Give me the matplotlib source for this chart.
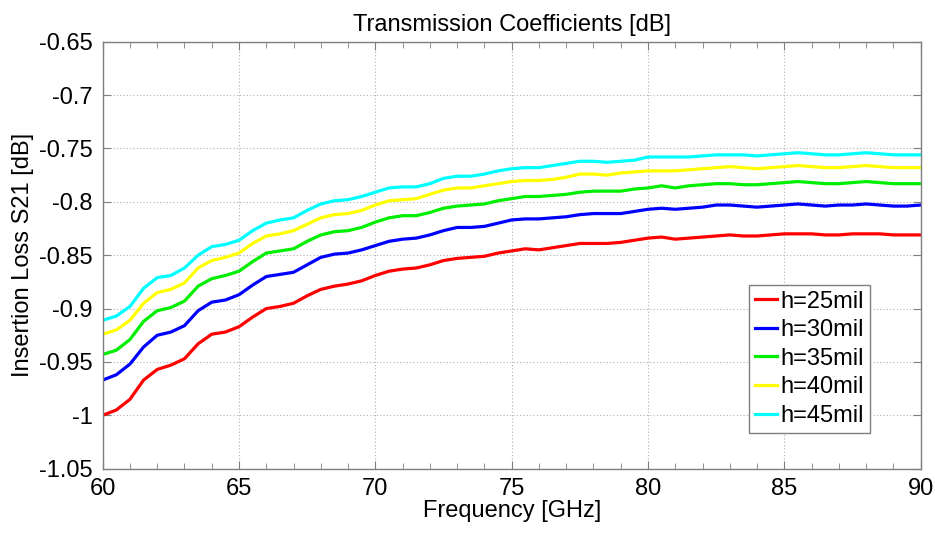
import numpy as np
import matplotlib.pyplot as plt
from matplotlib.ticker import MultipleLocator

plt.rcParams["font.family"] = ["Liberation Sans", "DejaVu Sans"]

freq = [60.0, 60.5, 61.0, 61.5, 62.0, 62.5, 63.0, 63.5, 64.0, 64.5,
        65.0, 65.5, 66.0, 66.5, 67.0, 67.5, 68.0, 68.5, 69.0, 69.5,
        70.0, 70.5, 71.0, 71.5, 72.0, 72.5, 73.0, 73.5, 74.0, 74.5,
        75.0, 75.5, 76.0, 76.5, 77.0, 77.5, 78.0, 78.5, 79.0, 79.5,
        80.0, 80.5, 81.0, 81.5, 82.0, 82.5, 83.0, 83.5, 84.0, 84.5,
        85.0, 85.5, 86.0, 86.5, 87.0, 87.5, 88.0, 88.5, 89.0, 89.5, 90.0]

s21_25 = [-1.000, -0.995, -0.985, -0.967, -0.957, -0.953, -0.947, -0.933, -0.924, -0.922,
          -0.917, -0.908, -0.900, -0.898, -0.895, -0.888, -0.882, -0.879, -0.877, -0.874,
          -0.869, -0.865, -0.863, -0.862, -0.859, -0.855, -0.853, -0.852, -0.851, -0.848,
          -0.846, -0.844, -0.845, -0.843, -0.841, -0.839, -0.839, -0.839, -0.838, -0.836,
          -0.834, -0.833, -0.835, -0.834, -0.833, -0.832, -0.831, -0.832, -0.832, -0.831,
          -0.830, -0.830, -0.830, -0.831, -0.831, -0.830, -0.830, -0.830, -0.831, -0.831, -0.831]

s21_30 = [-0.967, -0.962, -0.952, -0.936, -0.925, -0.922, -0.916, -0.902, -0.894, -0.892,
          -0.887, -0.878, -0.870, -0.868, -0.866, -0.859, -0.852, -0.849, -0.848, -0.845,
          -0.841, -0.837, -0.835, -0.834, -0.831, -0.827, -0.824, -0.824, -0.823, -0.820,
          -0.817, -0.816, -0.816, -0.815, -0.814, -0.812, -0.811, -0.811, -0.811, -0.809,
          -0.807, -0.806, -0.807, -0.806, -0.805, -0.803, -0.803, -0.804, -0.805, -0.804,
          -0.803, -0.802, -0.803, -0.804, -0.803, -0.803, -0.802, -0.803, -0.804, -0.804, -0.803]

s21_35 = [-0.943, -0.939, -0.929, -0.912, -0.902, -0.899, -0.893, -0.879, -0.872, -0.869,
          -0.865, -0.856, -0.848, -0.846, -0.844, -0.837, -0.831, -0.828, -0.827, -0.824,
          -0.819, -0.815, -0.813, -0.813, -0.810, -0.806, -0.804, -0.803, -0.802, -0.799,
          -0.797, -0.795, -0.795, -0.794, -0.793, -0.791, -0.790, -0.790, -0.790, -0.788,
          -0.787, -0.785, -0.787, -0.785, -0.784, -0.783, -0.783, -0.784, -0.784, -0.783,
          -0.782, -0.781, -0.782, -0.783, -0.783, -0.782, -0.781, -0.782, -0.783, -0.783, -0.783]

s21_40 = [-0.924, -0.920, -0.911, -0.895, -0.885, -0.882, -0.876, -0.862, -0.855, -0.852,
          -0.848, -0.839, -0.832, -0.830, -0.827, -0.821, -0.815, -0.812, -0.811, -0.808,
          -0.803, -0.799, -0.798, -0.797, -0.793, -0.789, -0.787, -0.787, -0.785, -0.783,
          -0.781, -0.780, -0.780, -0.779, -0.777, -0.774, -0.774, -0.775, -0.773, -0.772,
          -0.771, -0.771, -0.771, -0.770, -0.769, -0.768, -0.767, -0.768, -0.769, -0.768,
          -0.767, -0.766, -0.767, -0.768, -0.768, -0.767, -0.766, -0.767, -0.768, -0.768, -0.768]

s21_45 = [-0.911, -0.907, -0.898, -0.881, -0.871, -0.869, -0.862, -0.850, -0.842, -0.840,
          -0.836, -0.827, -0.820, -0.817, -0.815, -0.808, -0.802, -0.799, -0.798, -0.795,
          -0.791, -0.787, -0.786, -0.786, -0.783, -0.778, -0.776, -0.776, -0.774, -0.771,
          -0.769, -0.768, -0.768, -0.766, -0.764, -0.762, -0.762, -0.763, -0.762, -0.761,
          -0.758, -0.758, -0.758, -0.758, -0.757, -0.756, -0.756, -0.756, -0.757, -0.756,
          -0.755, -0.754, -0.755, -0.756, -0.756, -0.755, -0.754, -0.755, -0.756, -0.756, -0.756]

labels = ["h=25mil", "h=30mil", "h=35mil", "h=40mil", "h=45mil"]
series = [s21_25, s21_30, s21_35, s21_40, s21_45]
colors = ["#ff0000", "#0000ff", "#00ee00", "#ffff00", "#00ffff"]

FS = 17

fig = plt.figure(figsize=(9.35, 5.33), dpi=100)
ax = fig.add_axes([0.1098, 0.1206, 0.8749, 0.8012])

for vals, lab, col in zip(series, labels, colors):
    ax.plot(freq, vals, color=col, lw=2.3, label=lab)

ax.set_xlim(60, 90)
ax.set_ylim(-1.05, -0.65)
ax.xaxis.set_major_locator(MultipleLocator(5))
ax.xaxis.set_minor_locator(MultipleLocator(1))
ax.yaxis.set_major_locator(MultipleLocator(0.05))
ax.set_yticklabels([f"{v:g}" for v in ax.get_yticks()])

ax.grid(True, which="major", color="#b0b0b0", linestyle=(0, (1, 2)), linewidth=0.8)
for sp in ax.spines.values():
    sp.set_color("#7f7f7f")
    sp.set_linewidth(1.0)
ax.tick_params(axis="both", which="both", direction="in", top=True, right=True,
               color="#7f7f7f", labelsize=FS)
ax.tick_params(which="major", length=6)
ax.tick_params(which="minor", length=4)
ax.tick_params(axis="x", pad=7)
ax.tick_params(axis="y", pad=7)

ax.set_title("Transmission Coefficients [dB]", fontsize=FS, pad=8)
ax.set_xlabel("Frequency [GHz]", fontsize=FS, labelpad=0)
ax.set_ylabel("Insertion Loss S21 [dB]", fontsize=FS, labelpad=4)

leg = ax.legend(loc="lower right", bbox_to_anchor=(0.938, 0.084), fontsize=FS,
                fancybox=False, framealpha=1, edgecolor="#7f7f7f",
                handlelength=0.95, handletextpad=0.15, borderpad=0.25,
                labelspacing=0.28, borderaxespad=0)
leg.get_frame().set_linewidth(1.0)

fig.savefig("out.png", dpi=100)
